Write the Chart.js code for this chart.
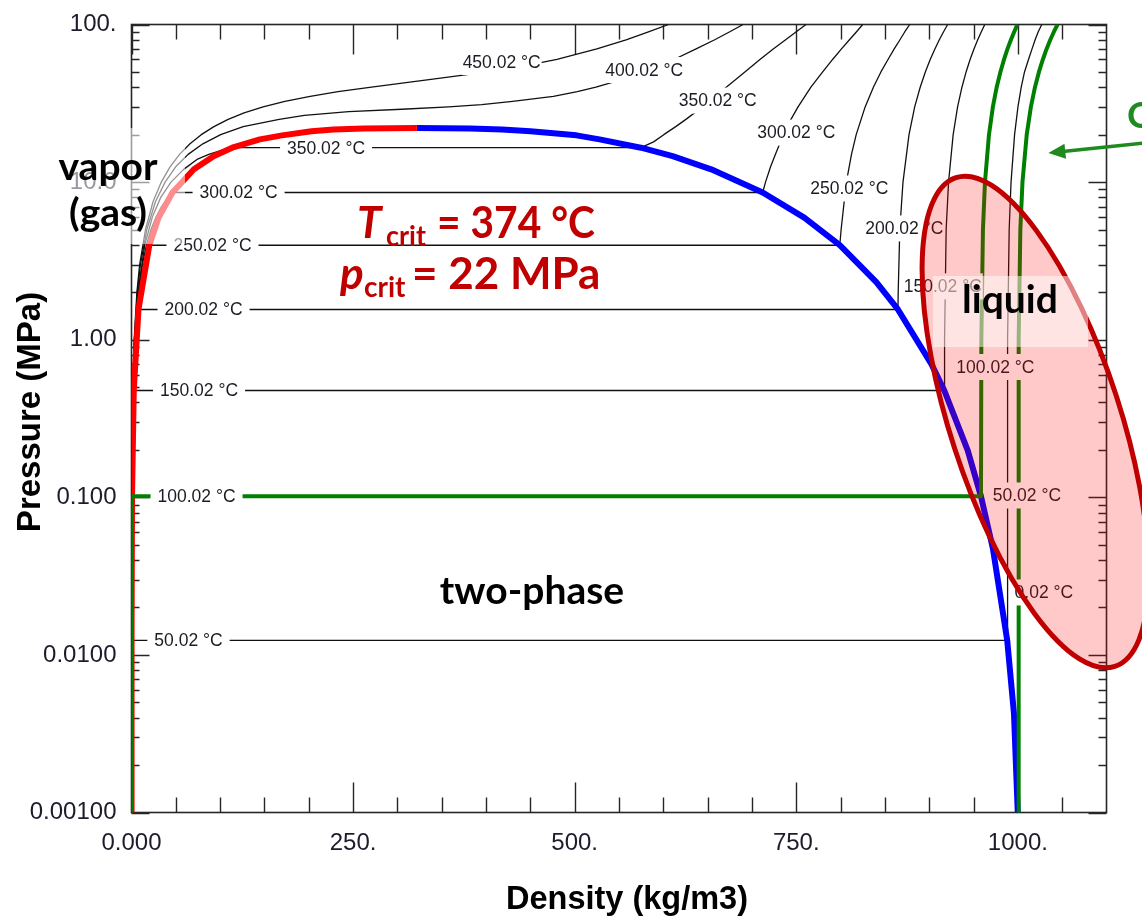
<!DOCTYPE html>
<html>
<head>
<meta charset="utf-8">
<title>Water: pressure vs density</title>
<script src="https://cdn.jsdelivr.net/npm/chart.js@4.4.1/dist/chart.umd.min.js"></script>
<style>
  html, body { margin: 0; padding: 0; background: #ffffff; }
  canvas { display: block; }
</style>
</head>
<body>
<canvas id="chart" width="1142" height="918"></canvas>
<script>
// ---------- axes ----------
const densityTicks = [0, 250, 500, 750, 1000];
const densityTickLabels = ['0.000', '250.', '500.', '750.', '1000.'];
const densityMinorTicks = [50, 100, 150, 200, 300, 350, 400, 450, 550, 600, 650, 700, 800, 850, 900, 950, 1050];
const pressureTicks = [0.001, 0.01, 0.1, 1, 10, 100];
const pressureTickLabels = ['0.00100', '0.0100', '0.100', '1.00', '10.0', '100.'];
const pressureMinorFactors = [2, 3, 4, 5, 6, 7, 8, 9];

// ---------- saturation dome (MPa, kg/m3) ----------
const satVapP   = [0.001, 0.01235, 0.1014, 0.476, 1.555, 3.976, 5.95, 8.588, 12.05, 14.6, 16.53, 18.67, 19.8, 21.04, 21.55, 21.9, 22.064];
const satVapRho = [0.0078, 0.083, 0.598, 2.55, 7.86, 20.1, 30.6, 46.2, 70.4, 92.6, 113.6, 144.8, 170, 203, 228, 262, 322];
const satLiqP   = [22.064, 21.9, 21.55, 21.04, 19.8, 18.67, 16.53, 14.6, 12.05, 8.588, 5.95, 3.976, 2.32, 1.555, 0.70, 0.476, 0.1987, 0.1014, 0.0474, 0.01235, 0.00425, 0.001];
const satLiqRho = [322, 382, 418, 450.1, 502, 528.1, 574.7, 610.5, 654, 712.1, 759, 799.1, 840.3, 864.7, 902.5, 917.0, 943.4, 958.4, 971.8, 988.0, 995.6, 999.9];

// ---------- isotherms (MPa, kg/m3) ----------
const iso450P   = [0.001, 0.1, 0.5, 1, 2, 3, 5, 7.5, 10, 12.5, 15, 17.5, 20, 22.5, 25, 27.5, 30, 32.5, 35, 37.5, 40, 45, 50, 55, 60, 70, 80, 90, 100];
const iso450Rho = [0.003, 0.30, 1.5, 3.0, 6.05, 9.2, 15.8, 24.3, 33.6, 43.5, 54.2, 66, 78.7, 93, 109, 127, 148.5, 173, 201.6, 233, 270.8, 340, 402, 446, 480, 525, 558, 584, 606];

const iso400P   = [0.001, 0.1, 0.5, 1, 2, 3, 5, 7.5, 10, 12.5, 15, 17.5, 20, 22.5, 25, 26.5, 28, 29, 30, 31, 32.5, 35, 37.5, 40, 45, 50, 60, 70, 80, 90, 100];
const iso400Rho = [0.0032, 0.32, 1.62, 3.26, 6.6, 10.1, 17.3, 27, 37.9, 49.8, 63.9, 80.5, 100.6, 126, 166.6, 195, 245, 305, 358, 395, 430, 476, 503, 524, 555, 578, 612, 637, 658, 675, 690];

const iso350P   = [0.001, 0.1, 0.5, 1, 2, 4, 6, 8, 10, 12, 14, 15, 16, 16.53, 16.53, 18, 20, 22.5, 25, 30, 35, 40, 50, 60, 70, 80, 90, 100];
const iso350Rho = [0.0035, 0.35, 1.75, 3.55, 7.2, 15.0, 23.5, 33, 44.6, 58.5, 74.6, 87.2, 103, 113.6, 574.7, 589, 600.5, 614, 625.5, 644, 659, 671, 692, 709, 724, 738, 750, 761];

const iso300P   = [0.001, 0.1, 0.5, 1, 2, 3, 4, 5, 6, 7, 8, 8.588, 8.588, 10, 12.5, 15, 20, 25, 30, 40, 50, 60, 70, 80, 90, 100];
const iso300Rho = [0.0038, 0.38, 1.9, 3.88, 7.97, 12.3, 16.9, 22.07, 27.6, 33.9, 41.2, 46.2, 712.1, 715.3, 721, 726.5, 735.5, 744, 752, 766.5, 779.8, 791, 801, 810, 818, 825];

const iso250P   = [0.001, 0.1, 0.5, 1, 1.5, 2, 2.5, 3, 3.5, 3.976, 3.976, 5, 10, 15, 20, 30, 40, 50, 60, 70, 80, 90, 100];
const iso250Rho = [0.0041, 0.41, 2.1, 4.30, 6.55, 8.98, 11.5, 14.17, 17.0, 20.1, 799.1, 800.6, 806.5, 812.3, 817.6, 827.7, 837, 845.5, 853.5, 860.5, 867, 872.5, 878];

const iso200P   = [0.001, 0.1, 0.5, 1, 1.25, 1.555, 1.555, 2, 5, 10, 20, 30, 40, 50, 60, 70, 80, 90, 100];
const iso200Rho = [0.0046, 0.46, 2.35, 4.85, 6.15, 7.86, 864.7, 865, 866.8, 870.4, 877.2, 883.6, 889.8, 895.6, 901.1, 906.4, 911.4, 916.2, 920.8];

const iso150P   = [0.001, 0.1, 0.3, 0.476, 0.476, 1, 5, 10, 20, 30, 40, 50, 60, 70, 80, 90, 100];
const iso150Rho = [0.0051, 0.52, 1.57, 2.55, 917.0, 917.3, 919.1, 921.8, 927.0, 932.0, 936.9, 941.6, 946.1, 950.5, 954.7, 958.8, 962.7];

const iso100P   = [0.001, 0.05, 0.1014, 0.1014, 1, 5, 10, 20, 30, 40, 50, 60, 70, 80, 90, 100];
const iso100Rho = [0.0058, 0.29, 0.598, 958.4, 958.8, 960.6, 962.9, 967.4, 971.8, 976.1, 980.3, 984.4, 988.3, 992.2, 995.9, 999.5];

const iso50P    = [0.001, 0.01235, 0.01235, 1, 5, 10, 20, 30, 40, 50, 60, 70, 80, 90, 100];
const iso50Rho  = [0.0067, 0.083, 988.0, 988.4, 990.2, 992.3, 996.3, 1000.1, 1003.8, 1007.5, 1012, 1016, 1019.5, 1023, 1027];

const iso0P     = [0.001, 1, 5, 10, 20, 30, 40, 50, 60, 70, 80, 90, 100];
const iso0Rho   = [1000.4, 1000.9, 1002.8, 1005.2, 1010, 1014.7, 1019.3, 1023.8, 1028.2, 1032.4, 1036.6, 1040.7, 1044.8];

// ---------- isotherm labels: text and anchor (kg/m3, MPa) ----------
const labelText = ['350.02 °C', '300.02 °C', '250.02 °C', '200.02 °C', '150.02 °C', '100.02 °C', '50.02 °C',
                   '450.02 °C', '400.02 °C', '350.02 °C', '300.02 °C', '250.02 °C', '200.02 °C', '150.02 °C', '100.02 °C', '50.02 °C', '0.02 °C'];
const labelRho  = [219.5, 120.8, 91.4, 81.3, 76.2, 73.4, 64.3,
                   417.6, 578.4, 661.4, 750, 809.8, 871.9, 915.3, 974.6, 1010.2, 1029.3];
const labelP    = [16.53, 8.588, 3.976, 1.555, 0.476, 0.1014, 0.01235,
                   57.8, 51.4, 32.9, 20.6, 9.11, 5.08, 2.18, 0.671, 0.1027, 0.0249];
const labelOnTieLine = [true, true, true, true, true, true, true,
                        false, false, false, false, false, false, false, false, false, false];

const pts = (rho, p) => rho.map((r, i) => ({ x: r, y: p[i] }));

const thin = (rho, p) => ({
  data: pts(rho, p), borderColor: '#111111', borderWidth: 1.3, order: 3
});
const green = (rho, p) => ({
  data: pts(rho, p), borderColor: '#008000', borderWidth: 4, order: 1
});

const datasets = [
  thin(iso450Rho, iso450P),
  thin(iso400Rho, iso400P),
  thin(iso350Rho, iso350P),
  thin(iso300Rho, iso300P),
  thin(iso250Rho, iso250P),
  thin(iso200Rho, iso200P),
  thin(iso150Rho, iso150P),
  thin(iso50Rho, iso50P),
  { data: pts(satVapRho, satVapP), borderColor: '#ff0000', borderWidth: 6, order: 2 },
  { data: pts(satLiqRho, satLiqP), borderColor: '#0000ff', borderWidth: 6, order: 2 },
  green(iso100Rho, iso100P),
  green(iso0Rho, iso0P)
];

const SANS = "'Liberation Sans', Arial, sans-serif";
const LATO = "Lato, 'Open Sans', sans-serif";

// inward tick marks on all four sides plus the frame
const frameTicks = {
  id: 'frameTicks',
  beforeDatasetsDraw(chart) {
    const { ctx, chartArea: a } = chart;
    const xs = chart.scales.x, ys = chart.scales.y;
    ctx.save();
    ctx.strokeStyle = '#262626';
    ctx.lineWidth = 1.6;
    ctx.strokeRect(a.left, a.top, a.right - a.left, a.bottom - a.top);
    ctx.lineWidth = 1.4;
    ctx.beginPath();
    const xTick = (v, len) => {
      const px = Math.round(xs.getPixelForValue(v)) + 0.5;
      ctx.moveTo(px, a.bottom); ctx.lineTo(px, a.bottom - len);
      ctx.moveTo(px, a.top); ctx.lineTo(px, a.top + len);
    };
    const yTick = (v, len) => {
      const py = Math.round(ys.getPixelForValue(v)) + 0.5;
      ctx.moveTo(a.left, py); ctx.lineTo(a.left + len, py);
      ctx.moveTo(a.right, py); ctx.lineTo(a.right - len, py);
    };
    densityTicks.forEach(v => xTick(v, 30));
    densityMinorTicks.forEach(v => xTick(v, 15));
    pressureTicks.forEach(v => yTick(v, 18));
    pressureTicks.slice(0, -1).forEach(d => pressureMinorFactors.forEach(f => yTick(d * f, 8)));
    ctx.stroke();
    ctx.restore();
  }
};

// isotherm labels, highlighted region, notes and axis titles
const overlay = {
  id: 'overlay',
  afterDatasetsDraw(chart) {
    const { ctx } = chart;
    const xs = chart.scales.x, ys = chart.scales.y;
    ctx.save();

    // isotherm labels on white patches that break the lines
    ctx.font = '17.5px ' + SANS;
    ctx.textAlign = 'center';
    ctx.textBaseline = 'middle';
    labelText.forEach((t, i) => {
      const cx = xs.getPixelForValue(labelRho[i]);
      const cy = ys.getPixelForValue(labelP[i]);
      const w = ctx.measureText(t).width;
      const padX = labelOnTieLine[i] ? 7 : 1;
      const padY = labelOnTieLine[i] ? 9 : 13;
      ctx.fillStyle = '#ffffff';
      ctx.fillRect(cx - w / 2 - padX, cy - padY, w + 2 * padX, 2 * padY);
      ctx.fillStyle = '#1c1c24';
      ctx.fillText(t, cx, cy + 1);
    });

    // compressed-liquid region
    const ex = xs.getPixelForValue(1019.8);
    const ey = ys.getPixelForValue(0.3004);
    ctx.beginPath();
    ctx.ellipse(ex, ey, 257, 85, 72 * Math.PI / 180, 0, 2 * Math.PI);
    ctx.fillStyle = 'rgba(255, 0, 0, 0.21)';
    ctx.fill();
    ctx.lineWidth = 5;
    ctx.strokeStyle = '#c00000';
    ctx.stroke();

    // phase names
    ctx.fillStyle = 'rgba(255, 255, 255, 0.55)';
    ctx.fillRect(48, 128, 137, 116);
    ctx.fillStyle = 'rgba(255, 255, 255, 0.5)';
    ctx.fillRect(933, 276, 155, 71);

    ctx.fillStyle = '#000000';
    ctx.textBaseline = 'alphabetic';
    ctx.textAlign = 'center';
    ctx.font = 'bold 39px ' + LATO;
    ctx.fillText('vapor', 108, 180);
    ctx.fillText('(gas)', 108, 226);
    ctx.fillText('two-phase', 532, 604);
    ctx.fillText('liquid', 1010, 313);

    // critical point
    ctx.fillStyle = '#c00000';
    ctx.textAlign = 'left';
    ctx.font = 'italic bold 44px ' + LATO;
    ctx.fillText('T', 357, 238);
    ctx.font = 'bold 28px ' + LATO;
    ctx.fillText('crit', 386, 246, 40);
    ctx.font = 'bold 44px ' + LATO;
    ctx.fillText('= 374 °C', 437, 238, 158);
    ctx.font = 'italic bold 44px ' + LATO;
    ctx.fillText('p', 340, 289);
    ctx.font = 'bold 28px ' + LATO;
    ctx.fillText('crit', 364, 297);
    ctx.font = 'bold 44px ' + LATO;
    ctx.fillText('= 22 MPa', 412, 289, 194);

    // arrow pointing at the liquid isotherms
    const ax0 = xs.getPixelForValue(1150), ay0 = ys.getPixelForValue(17.9);
    const ax1 = xs.getPixelForValue(1034.4), ay1 = ys.getPixelForValue(15.3);
    const ang = Math.atan2(ay1 - ay0, ax1 - ax0);
    ctx.strokeStyle = '#1f8a1f';
    ctx.fillStyle = '#1f8a1f';
    ctx.lineWidth = 3.5;
    ctx.beginPath();
    ctx.moveTo(ax0, ay0);
    ctx.lineTo(ax1 - 12 * Math.cos(ang), ay1 - 12 * Math.sin(ang));
    ctx.stroke();
    ctx.beginPath();
    ctx.moveTo(ax1, ay1);
    ctx.lineTo(ax1 - 17 * Math.cos(ang) + 7.5 * Math.sin(ang), ay1 - 17 * Math.sin(ang) - 7.5 * Math.cos(ang));
    ctx.lineTo(ax1 - 17 * Math.cos(ang) - 7.5 * Math.sin(ang), ay1 - 17 * Math.sin(ang) + 7.5 * Math.cos(ang));
    ctx.closePath();
    ctx.fill();
    ctx.font = 'bold 37px ' + LATO;
    ctx.fillText('C', 1127, 128);

    // axis titles
    ctx.fillStyle = '#000000';
    ctx.textAlign = 'center';
    ctx.textBaseline = 'middle';
    ctx.font = 'bold 32.5px ' + SANS;
    ctx.fillText('Density (kg/m3)', 627, 900);
    ctx.save();
    ctx.translate(31, 412);
    ctx.rotate(-Math.PI / 2);
    ctx.font = 'bold 33px ' + SANS;
    ctx.fillText('Pressure (MPa)', 0, 0);
    ctx.restore();

    ctx.restore();
  }
};

new Chart(document.getElementById('chart'), {
  type: 'line',
  data: { datasets },
  options: {
    responsive: false,
    devicePixelRatio: 1,
    animation: false,
    events: [],
    layout: { padding: { left: 0, top: 24.5, right: 35.5, bottom: 0 } },
    elements: {
      point: { radius: 0 },
      line: { tension: 0, borderJoinStyle: 'round', fill: false }
    },
    plugins: { legend: { display: false }, tooltip: { enabled: false }, title: { display: false } },
    scales: {
      x: {
        type: 'linear', min: 0, max: 1100,
        grid: { display: false }, border: { display: false },
        afterBuildTicks: s => { s.ticks = densityTicks.map(v => ({ value: v })); },
        afterFit: s => { s.height = 105.5; },
        ticks: {
          padding: 8, maxRotation: 0, autoSkip: false,
          color: '#1c1c2c', font: { family: SANS, size: 24 },
          callback: v => densityTickLabels[densityTicks.indexOf(v)]
        }
      },
      y: {
        type: 'logarithmic', min: 0.001, max: 100,
        grid: { display: false }, border: { display: false },
        afterBuildTicks: s => { s.ticks = pressureTicks.map(v => ({ value: v })); },
        afterFit: s => { s.width = 131.5; },
        ticks: {
          padding: 7, autoSkip: false,
          color: '#1c1c2c', font: { family: SANS, size: 24 },
          callback: v => pressureTickLabels[pressureTicks.indexOf(v)]
        }
      }
    }
  },
  plugins: [frameTicks, overlay]
});
</script>
</body>
</html>
